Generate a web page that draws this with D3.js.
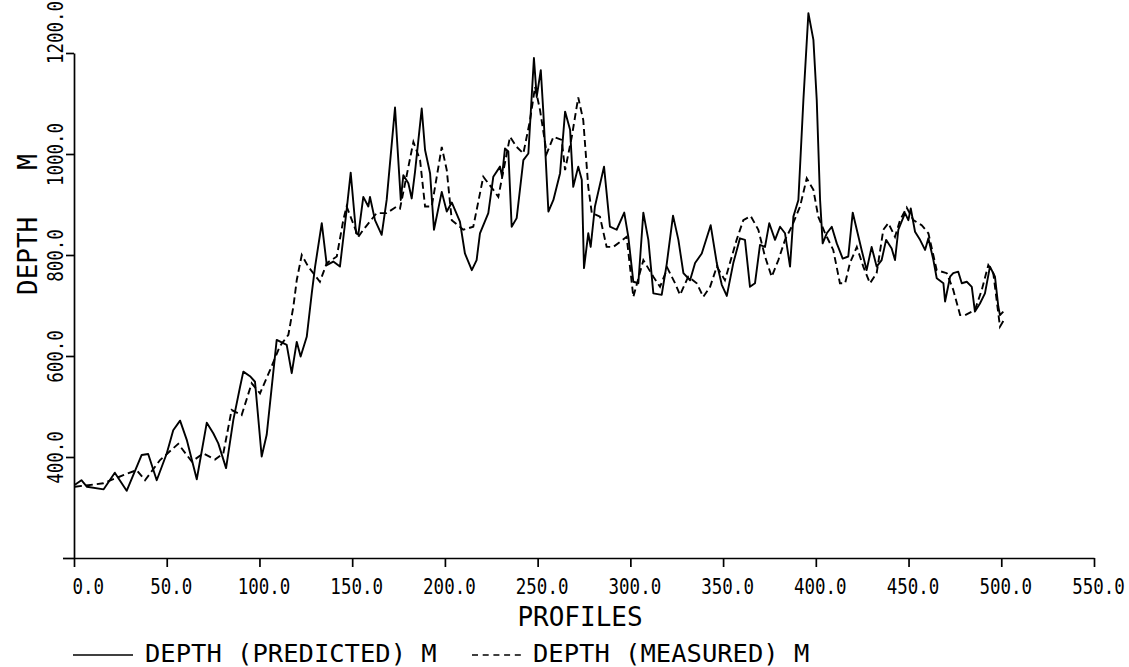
<!DOCTYPE html>
<html>
<head>
<meta charset="utf-8">
<script src="https://cdn.jsdelivr.net/npm/d3@7"></script>
<style>
  body { margin: 0; background: #fff; }
  text { font-family: "DejaVu Sans Mono", monospace; fill: #000; }
</style>
</head>
<body>
<svg width="1129" height="667"></svg>
<script>
// predicted depth (solid)
var predictedProfile = [0.5, 4, 7, 16, 22, 28.4, 36.5, 40, 44.6, 50, 53.5, 57.2, 60.8, 66.2, 71.6, 75.1, 77.8, 82, 85.9, 89.5,
  91.3, 94.9, 97.6, 101.2, 103.9, 109.3, 114.7, 117.4, 120.1, 122.2, 125.5, 128.2, 130, 133.6, 136.3, 139.8, 143.4, 147, 149.2, 152.1,
  153.3, 156, 158.7, 159.6, 162.3, 165.9, 168.6, 173.1, 176.2, 177.6, 180.3, 182.1, 183.9, 187.5, 189.3, 192, 194.1, 198.3, 201, 203.7,
  208.1, 210.8, 214.5, 217.1, 218.9, 223.4, 226.1, 229.7, 230.8, 232.4, 234.2, 236, 238.7, 242.3, 245, 248, 249.5, 251.7, 253.1, 255.8,
  258.5, 262.1, 264.8, 267.5, 269.2, 271.9, 273.8, 275, 277.3, 278.6, 280.9, 285.8, 289, 292.6, 296.7, 298.9, 301.6, 304.3, 307, 309.7,
  312.4, 316.9, 319.6, 323, 325.9, 328.6, 332.2, 334.9, 338.5, 343.3, 346.6, 349.3, 352, 355.5, 359.1, 361.8, 364.5, 367.2, 369.9, 372.6,
  374.9, 378, 380.7, 383.4, 386.1, 387.9, 390.6, 393.3, 396, 398.7, 400.5, 402.3, 403.7, 405.9, 408.6, 411.3, 414.5, 417.5, 419.9, 422.1,
  424.7, 427.4, 430.1, 432.8, 435.5, 437.9, 440.9, 442.7, 444.5, 448.1, 449.9, 451.2, 453.5, 456.2, 458.9, 460.7, 463.4, 465.2, 468.8, 469.7,
  472.4, 474.1, 476.8, 478.7, 481.4, 484.1, 485.8, 488.5, 491.2, 493.9, 496.6, 498.4, 499.3, 501.1];
var predictedDepth = [345, 354, 341, 336, 369, 333, 404, 406, 354, 407, 453, 472, 434, 356, 468, 447, 427, 378, 473, 538,
  569, 560, 549, 401, 444, 632, 622, 566, 628, 599, 638, 724, 777, 863, 780, 787, 777, 889, 963, 843,
  840, 915, 896, 915, 869, 840, 909, 1092, 909, 958, 942, 912, 965, 1090, 1008, 962, 850, 925, 886, 904,
  866, 803, 770, 790, 843, 883, 955, 975, 956, 1011, 1005, 856, 873, 988, 1001, 1190, 1113, 1166, 1081, 886,
  909, 962, 1084, 1048, 935, 975, 949, 774, 843, 816, 896, 975, 856, 850, 884, 836, 747, 744, 884, 830,
  724, 721, 782, 878, 830, 764, 750, 784, 803, 859, 784, 741, 719, 784, 833, 830, 737, 744, 820, 816,
  863, 830, 856, 843, 777, 876, 909, 1107, 1279, 1226, 1107, 909, 823, 843, 856, 823, 793, 797, 884, 850,
  810, 770, 816, 777, 790, 830, 813, 790, 850, 883, 869, 892, 846, 830, 810, 833, 790, 754, 744, 708,
  757, 764, 767, 744, 747, 737, 688, 704, 724, 777, 757, 698, 681, 688];

// measured depth (dashed)
var measuredProfile = [0.5, 15.8, 26.6, 33.8, 38.3, 46.4, 56.2, 63.5, 69.7, 76, 80.5, 85, 90.4, 95.8, 100.3, 105.7, 111.1, 115.6, 118.3, 120.1,
  122.8, 126.3, 132.6, 136.3, 141.7, 145.2, 147, 153.3, 156, 163.2, 168.6, 174, 175.8, 183, 186.6, 189.3, 192.9, 198.3, 201, 203.7,
  209.9, 215.3, 220.7, 226.1, 228.8, 235.1, 238.7, 242.3, 245.9, 248.6, 251.3, 254.9, 258.5, 263, 264.8, 268.4, 271.9, 274.6, 277.3, 279.2,
  283.6, 287.2, 290.8, 298, 301.6, 307, 312.4, 316, 320, 324.1, 326.8, 331.2, 335.8, 339.3, 343, 346.6, 351, 357.3, 360.9, 364.9,
  369, 372.6, 376.2, 379.8, 383.4, 387, 391.5, 395.1, 398.7, 401.3, 405, 409.4, 413, 415.8, 418.4, 422.1, 425.6, 429.2, 432.8, 436.4,
  439.1, 442.7, 445.4, 449, 452.6, 457.1, 460.7, 465.2, 470.6, 474.1, 477.8, 480.5, 485.8, 489.5, 493, 495.7, 497.5, 499.3, 502];
var measuredDepth = [341, 348, 364, 374, 354, 394, 426, 391, 407, 395, 407, 493, 483, 546, 526, 572, 620, 642, 698, 750,
  800, 777, 747, 784, 797, 869, 896, 836, 850, 883, 883, 896, 892, 1024, 988, 896, 896, 1014, 968, 869,
  850, 856, 955, 929, 915, 1034, 1014, 1001, 1067, 1133, 1087, 1001, 1034, 1028, 968, 1034, 1112, 1067, 935, 883,
  876, 816, 816, 836, 717, 790, 757, 737, 774, 744, 721, 757, 744, 717, 737, 777, 750, 830, 869, 877,
  850, 797, 757, 790, 830, 856, 896, 952, 929, 876, 843, 810, 744, 744, 784, 816, 777, 744, 764, 850,
  863, 836, 869, 894, 869, 859, 843, 770, 764, 731, 681, 681, 691, 731, 780, 764, 711, 658, 675];

var xTicks = [0, 50, 100, 150, 200, 250, 300, 350, 400, 450, 500, 550];
var yTicks = [200, 400, 600, 800, 1000, 1200];
var xTitle = "PROFILES";
var yTitle = "DEPTH   M";
var legendLabels = ["DEPTH (PREDICTED) M", "DEPTH (MEASURED) M"];

var svg = d3.select("svg");
var x = d3.scaleLinear([0, 550], [74, 1094]);
var y = d3.scaleLinear([200, 1200], [558, 53]);
var fmt = d3.format(".1f");

// x axis
var xAxis = svg.append("g")
  .attr("transform", `translate(0,${y(200)})`)
  .call(d3.axisBottom(x).tickValues(xTicks).tickSize(9).tickSizeOuter(0).tickFormat(fmt));
xAxis.selectAll("path, line").style("stroke", "#000").style("stroke-width", 1.7);
xAxis.selectAll("text")
  .attr("y", null).attr("dy", null)
  .style("font-size", "17.5px")
  .attr("text-anchor", function (d) { return d === 0 ? "start" : "middle"; })
  .attr("transform", function (d) { return `translate(${d === 0 ? -2 : 4},36) scale(1,1.25)`; });

// y axis
var yAxis = svg.append("g")
  .attr("transform", `translate(${x(0)},0)`)
  .call(d3.axisLeft(y).tickValues(yTicks).tickSize(8).tickSizeOuter(0)
    .tickFormat(function (d) { return d === 200 ? "" : fmt(d); }));
yAxis.selectAll("path, line").style("stroke", "#000").style("stroke-width", 1.7);
yAxis.selectAll(".tick line").filter(function (d) { return d === 200; }).attr("x2", -11);
yAxis.selectAll("text")
  .attr("x", null).attr("dy", null)
  .style("font-size", "17.5px")
  .attr("text-anchor", "middle")
  .attr("transform", function (d) {
    // the top label sits above its tick in the original plot
    var shift = d === 1200 ? -21 : 0;
    return `translate(-11,${shift}) rotate(-90) scale(1,1.25)`;
  });

// axis titles
svg.append("text")
  .attr("x", (x.range()[0] + x.range()[1]) / 2 - 4)
  .attr("y", 626)
  .attr("text-anchor", "middle")
  .style("font-size", "26px")
  .text(xTitle);

svg.append("text")
  .attr("transform", "translate(37,295) rotate(-90)")
  .attr("xml:space", "preserve")
  .style("white-space", "pre")
  .style("font-size", "26px")
  .text(yTitle);

// lines
var predicted = predictedProfile.map(function (p, i) { return [p, predictedDepth[i]]; });
var measured = measuredProfile.map(function (p, i) { return [p, measuredDepth[i]]; });
var line = d3.line()
  .x(function (d) { return x(d[0]); })
  .y(function (d) { return y(d[1]); });

svg.append("path")
  .datum(measured)
  .attr("d", line)
  .attr("fill", "none")
  .attr("stroke", "#000")
  .attr("stroke-width", 1.9)
  .attr("stroke-dasharray", "7,4");

svg.append("path")
  .datum(predicted)
  .attr("d", line)
  .attr("fill", "none")
  .attr("stroke", "#000")
  .attr("stroke-width", 1.9)
  .attr("stroke-linejoin", "round");

// legend
var legend = svg.append("g").attr("transform", "translate(0,655)");
legend.append("line")
  .attr("x1", 73).attr("x2", 133)
  .attr("stroke", "#000").attr("stroke-width", 1.7);
legend.append("text")
  .attr("x", 145).attr("y", 7)
  .style("font-size", "25.5px")
  .text(legendLabels[0]);
legend.append("line")
  .attr("x1", 472).attr("x2", 521)
  .attr("stroke", "#000").attr("stroke-width", 1.7)
  .attr("stroke-dasharray", "6,4.7");
legend.append("text")
  .attr("x", 533).attr("y", 7)
  .style("font-size", "25.5px")
  .text(legendLabels[1]);
</script>
</body>
</html>
